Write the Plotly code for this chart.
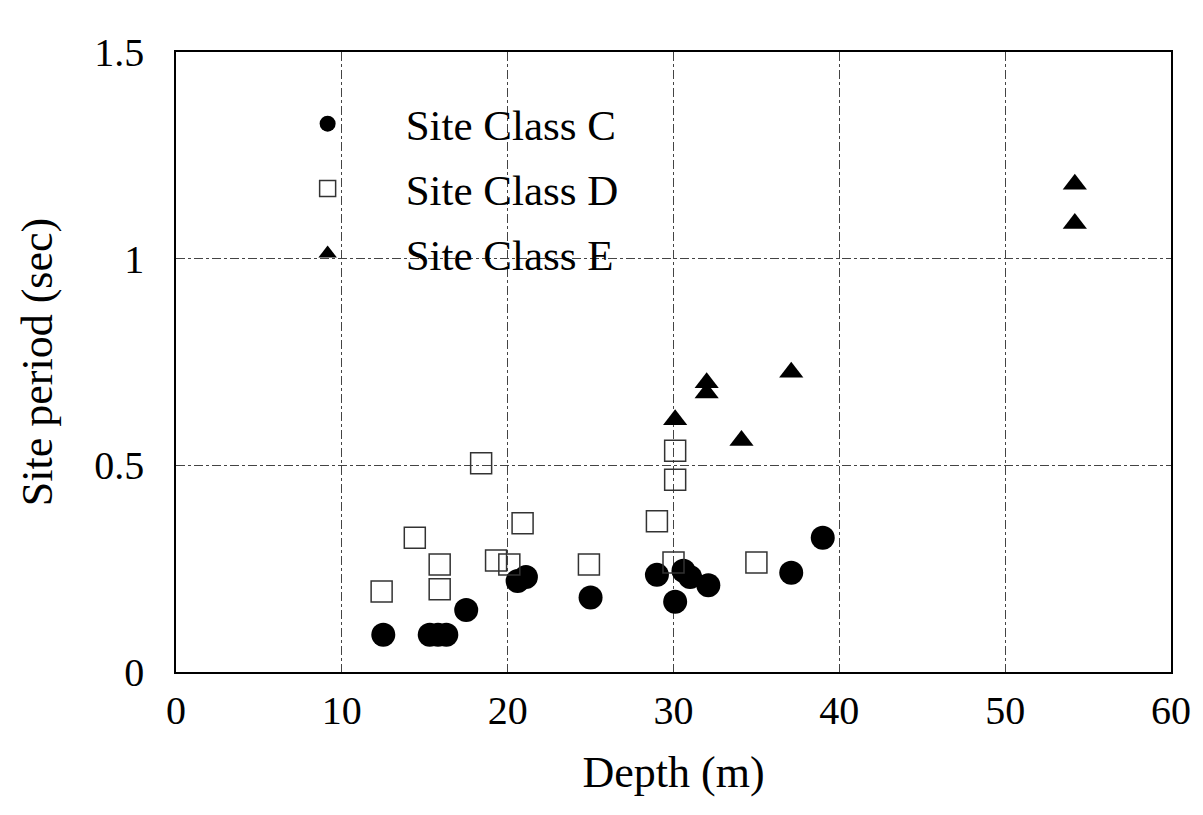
import plotly.graph_objects as go

# Site Class C (filled circles)
c_depth = [12.5, 15.3, 15.8, 16.3, 17.5, 20.6, 21.1, 25.0, 29.0, 30.1, 30.6, 31.0, 32.1, 37.1, 39.0]
c_period = [0.09, 0.09, 0.09, 0.09, 0.15, 0.22, 0.23, 0.18, 0.235, 0.17, 0.245, 0.23, 0.21, 0.24, 0.325]

# Site Class D (open squares)
d_depth = [12.4, 14.4, 15.9, 15.9, 18.4, 19.3, 20.1, 20.9, 24.9, 29.0, 30.1, 30.1, 30.0, 35.0]
d_period = [0.195, 0.325, 0.26, 0.20, 0.505, 0.27, 0.26, 0.36, 0.26, 0.365, 0.535, 0.465, 0.265, 0.265]

# Site Class E (filled triangles)
e_depth = [30.1, 32.0, 32.0, 34.1, 37.1, 54.2, 54.2]
e_period = [0.61, 0.70, 0.675, 0.56, 0.725, 1.18, 1.085]

x_ticks = [0, 10, 20, 30, 40, 50, 60]
y_ticks = [0, 0.5, 1, 1.5]
y_ticklabels = ["0", "0.5", "1", "1.5"]

font = "Liberation Serif, Times New Roman, serif"

fig = go.Figure()
fig.add_trace(go.Scatter(
    x=c_depth, y=c_period, mode="markers", name="Site Class C", legendgroup="c",
    marker=dict(symbol="circle", size=24, color="black", line=dict(width=0)),
))
fig.add_trace(go.Scatter(
    x=d_depth, y=d_period, mode="markers", name="Site Class D", legendgroup="d",
    marker=dict(symbol="square-open", size=21, color="#333333", line=dict(width=1.5)),
))
fig.add_trace(go.Scatter(
    x=e_depth, y=e_period, mode="markers", name="Site Class E", legendgroup="e",
    marker=dict(symbol="triangle-up", size=21, color="black", line=dict(width=0)),
))

fig.update_layout(
    width=1203, height=815,
    margin=dict(l=176, r=30, t=52, b=143),
    paper_bgcolor="white", plot_bgcolor="white",
    font=dict(family=font, size=40, color="black"),
    showlegend=True,
    legend=dict(
        x=0.074, y=0.94, xanchor="left", yanchor="top",
        bgcolor="rgba(0,0,0,0)", font=dict(size=43, family=font),
        tracegroupgap=6, itemsizing="trace", itemwidth=146,
    ),
    xaxis=dict(
        range=[0, 60], tickvals=x_ticks, showgrid=True,
        gridcolor="#444444", gridwidth=1, griddash="dashdot",
        showline=True, linecolor="black", linewidth=1.5, mirror=True,
        zeroline=False, ticks="", ticklabelstandoff=2,
        title=dict(text="Depth (m)", font=dict(size=44, family=font), standoff=24),
        tickfont=dict(size=40, family=font),
    ),
    yaxis=dict(
        range=[0, 1.5], tickvals=y_ticks, ticktext=y_ticklabels, showgrid=True,
        gridcolor="#444444", gridwidth=1, griddash="dashdot",
        showline=True, linecolor="black", linewidth=1.5, mirror=True,
        zeroline=False, ticks="", ticklabelstandoff=22,
        title=dict(text="Site period (sec)", font=dict(size=44, family=font), standoff=28),
        tickfont=dict(size=40, family=font),
    ),
)

fig.write_html("out.html")
